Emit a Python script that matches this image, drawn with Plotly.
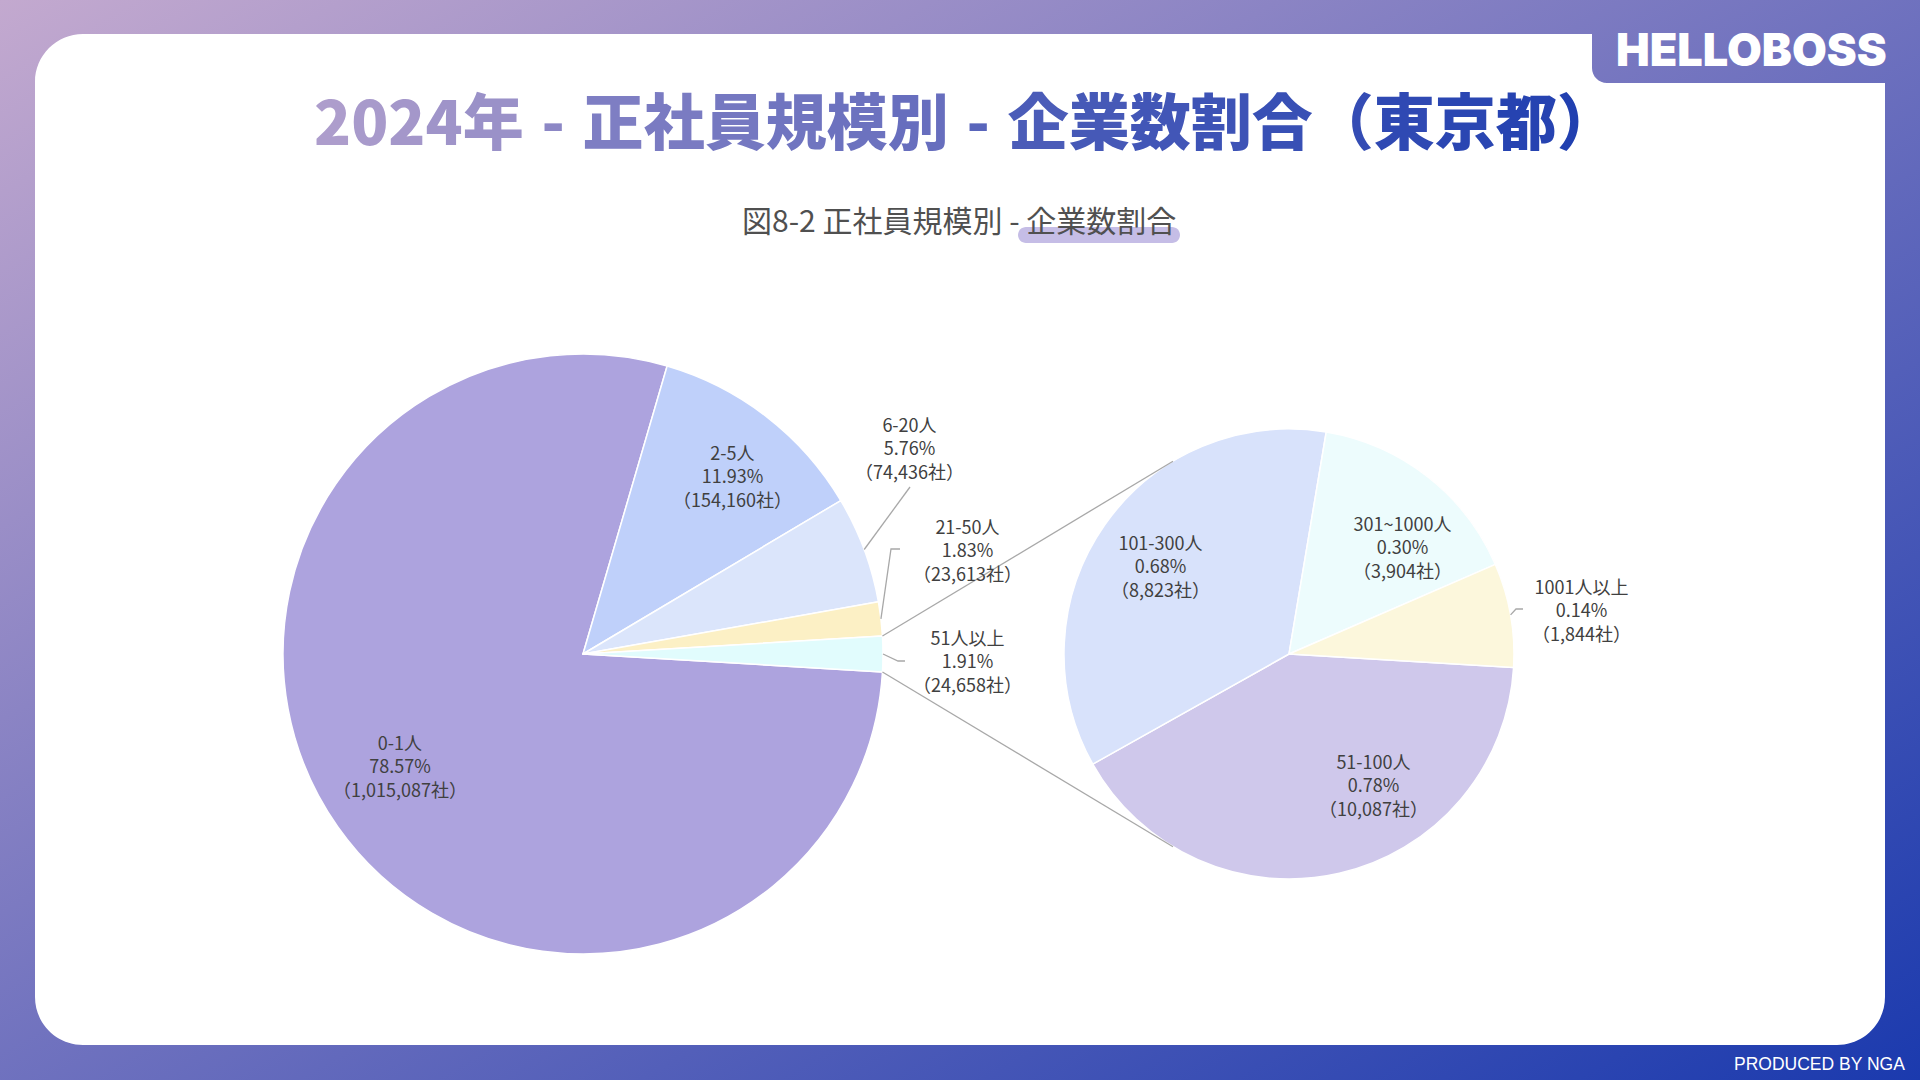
import base64
import math

import plotly.graph_objects as go

# ---- data ----
main_labels = ["0-1人", "2-5人", "6-20人", "21-50人", "51人以上"]
main_pct = [78.57, 11.93, 5.76, 1.83, 1.91]
main_counts = [1015087, 154160, 74436, 23613, 24658]

sub_labels = ["51-100人", "101-300人", "301~1000人", "1001人以上"]
sub_pct = [0.78, 0.68, 0.30, 0.14]
sub_counts = [10087, 8823, 3904, 1844]

main_colors = ["#ADA3DE", "#BFD0FA", "#DBE5FB", "#FCF0C5", "#E1FCFD"]
sub_colors = ["#CFC8EB", "#D8E2FB", "#EDFCFD", "#FCF7DC"]

TITLE = "2024年\u200a - \u200a正社員規模別\u200a - \u200a企業数割合（東京都）"
SUBTITLE = "図8-2 正社員規模別 - 企業数割合"

# ---- page geometry (pixels, y down) ----
W, H = 1920, 1080
C1, R1 = (583, 654), 300
C2, R2 = (1289, 654), 225

FONT = "Noto Sans CJK JP"
LABEL_COLOR = "#404040"
LINE_COLOR = "#A8A8A8"

# label offsets from pie centre, px
main_label_pos = [(-183, 111), (149, -179), (326, -206), (384, -105), (384, 6)]
sub_label_pos = [(84, 130), (-129, -89), (113, -108), (292, -45)]
# leader lines for outside labels: (elbow offset from centre, tail length)
main_leaders = {2: ((327, -167), 0), 3: ((308, -105), 9), 4: ((315, 7), 7)}
sub_leaders = {3: ((227, -45), 7)}


def px(x):
    return x / W


def py(y):
    return 1 - y / H


def pt(x, y):
    return f"{px(x):.5f},{py(y):.5f}"


def domain(c, r):
    return dict(x=[px(c[0] - r), px(c[0] + r)], y=[py(c[1] + r), py(c[1] - r)])


def rounded_path(corners):
    # corners: list of (x, y, radius) in drawing order, closed polygon
    k = 0.5523
    n = len(corners)
    parts = []
    for i in range(n):
        x, y, r = corners[i]
        px0, py0, _ = corners[i - 1]
        nx, ny, _ = corners[(i + 1) % n]
        d_in = math.hypot(x - px0, y - py0)
        d_out = math.hypot(nx - x, ny - y)
        ax, ay = x + (px0 - x) * r / d_in, y + (py0 - y) * r / d_in
        bx, by = x + (nx - x) * r / d_out, y + (ny - y) * r / d_out
        parts.append(("M" if i == 0 else "L") + pt(ax, ay))
        if r > 0:
            c1x, c1y = ax + (x - ax) * k, ay + (y - ay) * k
            c2x, c2y = bx + (x - bx) * k, by + (y - by) * k
            parts.append("C" + pt(c1x, c1y) + " " + pt(c2x, c2y) + " " + pt(bx, by))
    return " ".join(parts) + " Z"


def fmt_label(name, pct, count):
    return f"{name}<br>{pct:.2f}%<br>（{count:,}社）"


# both pies start at the lower edge of the "51人以上" slice and run clockwise
half_link = 180 * main_counts[-1] / sum(main_counts)
rotation = 90 + half_link
start_angle = -half_link  # math degrees


def mid_angles(values):
    tot = sum(values)
    acc = 0
    out = []
    for v in values:
        a0 = start_angle - 360 * acc / tot
        acc += v
        a1 = start_angle - 360 * acc / tot
        out.append((a0 + a1) / 2)
    return out


def on_circle(c, r, ang):
    a = math.radians(ang)
    return c[0] + r * math.cos(a), c[1] - r * math.sin(a)


def tangent_point(p, c, r, upper):
    vx, vy = p[0] - c[0], c[1] - p[1]
    phi = math.atan2(vy, vx)
    alpha = math.acos(r / math.hypot(vx, vy))
    cands = [phi + alpha, phi - alpha]
    t = max(cands, key=math.sin) if upper else min(cands, key=math.sin)
    return c[0] + r * math.cos(t), c[1] - r * math.sin(t)


fig = go.Figure()
fig.add_trace(go.Pie(
    labels=main_labels, values=main_counts, sort=False, direction="clockwise",
    rotation=rotation, textinfo="none", showlegend=False, domain=domain(C1, R1),
    marker=dict(colors=main_colors, line=dict(color="white", width=1.5)),
    hovertemplate="%{label}<br>%{value:,}社<extra></extra>",
))
fig.add_trace(go.Pie(
    labels=sub_labels, values=sub_counts, sort=False, direction="clockwise",
    rotation=rotation, textinfo="none", showlegend=False, domain=domain(C2, R2),
    marker=dict(colors=sub_colors, line=dict(color="white", width=1.5)),
    hovertemplate="%{label}<br>%{value:,}社<extra></extra>",
))

shapes = []
# white card with the logo notch in the top-right corner
card = [(35, 34, 48), (1592, 34, 0), (1592, 83, 15), (1885, 83, 0),
        (1885, 1045, 48), (35, 1045, 48)]
shapes.append(dict(type="path", xref="paper", yref="paper", path=rounded_path(card),
                   fillcolor="white", line=dict(width=0), layer="below"))
# highlight pill under the subtitle
pill = [(1018, 227, 8), (1180, 227, 8), (1180, 243, 8), (1018, 243, 8)]
shapes.append(dict(type="path", xref="paper", yref="paper", path=rounded_path(pill),
                   fillcolor="#C5BDE6", line=dict(width=0), layer="below"))

# connector lines between the pies
p_top = on_circle(C1, R1, half_link)
p_bot = on_circle(C1, R1, -half_link)
for p, up in ((p_top, True), (p_bot, False)):
    q = tangent_point(p, C2, R2, up)
    shapes.append(dict(type="line", xref="paper", yref="paper",
                       x0=px(p[0]), y0=py(p[1]), x1=px(q[0]), y1=py(q[1]),
                       line=dict(color=LINE_COLOR, width=1.3)))

annotations = []


def add_labels(c, r, names, pcts, counts, positions, leaders):
    mids = mid_angles(counts)
    for i, name in enumerate(names):
        dx, dy = positions[i]
        annotations.append(dict(
            x=px(c[0] + dx), y=py(c[1] + dy), xref="paper", yref="paper",
            text=fmt_label(name, pcts[i], counts[i]), showarrow=False,
            xanchor="center", yanchor="middle", align="center",
            font=dict(family=FONT, size=18, color=LABEL_COLOR),
        ))
        if i in leaders:
            (ex, ey), tail = leaders[i]
            s = on_circle(c, r, mids[i])
            e = (c[0] + ex, c[1] + ey)
            path = "M" + pt(*s) + " L" + pt(*e)
            if tail:
                path += " L" + pt(e[0] + tail, e[1])
            shapes.append(dict(type="path", xref="paper", yref="paper", path=path,
                               line=dict(color=LINE_COLOR, width=1.3)))


add_labels(C1, R1, main_labels, main_pct, main_counts, main_label_pos, main_leaders)
add_labels(C2, R2, sub_labels, sub_pct, sub_counts, sub_label_pos, sub_leaders)


# gradient-coloured title, one span per character
def lerp_hex(a, b, t):
    ca = [int(a[i:i + 2], 16) for i in (1, 3, 5)]
    cb = [int(b[i:i + 2], 16) for i in (1, 3, 5)]
    return "#" + "".join(f"{round(x + (y - x) * t):02X}" for x, y in zip(ca, cb))


n = len(TITLE)
title_html = "".join(
    f'<span style="color:{lerp_hex("#AD9DCC", "#2140B0", i / (n - 1))}">{ch}</span>'
    for i, ch in enumerate(TITLE)
)
annotations.append(dict(x=px(966), y=py(119), xref="paper", yref="paper", text=title_html,
                        showarrow=False, xanchor="center", yanchor="middle",
                        font=dict(family=FONT, size=61, weight=900)))
annotations.append(dict(x=px(959), y=py(219), xref="paper", yref="paper", text=SUBTITLE,
                        showarrow=False, xanchor="center", yanchor="middle",
                        font=dict(family=FONT, size=30, color="#505050")))
annotations.append(dict(x=px(1751), y=py(50), xref="paper", yref="paper", text="HELLOBOSS",
                        showarrow=False, xanchor="center", yanchor="middle",
                        font=dict(family="Inter", size=45, weight=900, color="white")))
annotations.append(dict(x=px(1819), y=py(1064), xref="paper", yref="paper",
                        text="PRODUCED BY NGA", showarrow=False, xanchor="center",
                        yanchor="middle",
                        font=dict(family="Liberation Sans", size=17.5, color="white")))

# page background gradient
svg = (
    f'<svg xmlns="http://www.w3.org/2000/svg" width="{W}" height="{H}">'
    '<defs><linearGradient id="g" x1="0" y1="0" x2="1" y2="1">'
    '<stop offset="0" stop-color="#C3A9CF"/><stop offset="1" stop-color="#1B3AAE"/>'
    '</linearGradient></defs>'
    f'<rect width="{W}" height="{H}" fill="url(#g)"/></svg>'
)
bg_src = "data:image/svg+xml;base64," + base64.b64encode(svg.encode()).decode()

fig.update_layout(
    width=W, height=H,
    margin=dict(l=0, r=0, t=0, b=0),
    paper_bgcolor="#7072BE",
    shapes=shapes,
    annotations=annotations,
    images=[dict(source=bg_src, xref="paper", yref="paper", x=0, y=1, sizex=1, sizey=1,
                 xanchor="left", yanchor="top", sizing="stretch", layer="below")],
    font=dict(family=FONT),
)

fig.write_html(
    "out.html",
    config={"displayModeBar": False},
    post_script="document.body.style.margin='0';document.body.style.overflow='hidden';",
)
